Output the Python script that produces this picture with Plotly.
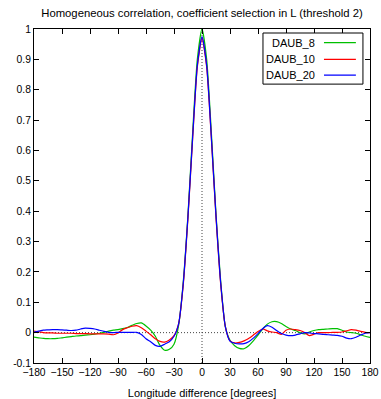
import plotly.graph_objects as go

longitude = list(range(-180, 185, 5))

daub_8 = [-0.015, -0.017, -0.019, -0.020, -0.020, -0.019, -0.017, -0.015, -0.013, -0.011,
          -0.010, -0.008, -0.007, -0.005, -0.002, 0.001, 0.005, 0.008, 0.010, 0.013,
          0.017, 0.024, 0.030, 0.032, 0.022, 0.008, -0.012, -0.042, -0.058, -0.055,
          -0.038, 0.025, 0.17, 0.39, 0.66, 0.90, 1.0, 0.90, 0.66, 0.39,
          0.17, 0.02, -0.025, -0.043, -0.052, -0.053, -0.043, -0.027, -0.008, 0.012,
          0.028, 0.036, 0.036, 0.030, 0.020, 0.012, 0.007, 0.000, -0.004, 0.002,
          0.007, 0.010, 0.011, 0.012, 0.013, 0.013, 0.008, 0.002, 0.000, -0.002,
          -0.007, -0.012, -0.016]

daub_10 = [0.005, 0.003, 0.000, -0.001, -0.001, -0.002, -0.002, -0.002, -0.002, -0.003,
           -0.003, -0.003, -0.004, -0.004, -0.004, -0.004, -0.005, -0.007, -0.001, 0.010,
           0.016, 0.021, 0.023, 0.016, 0.005, -0.007, -0.020, -0.029, -0.031, -0.024,
           -0.010, 0.030, 0.16, 0.38, 0.64, 0.875, 0.97, 0.875, 0.64, 0.38,
           0.16, 0.02, -0.027, -0.034, -0.032, -0.027, -0.019, -0.008, 0.004, 0.012,
           0.006, 0.002, 0.000, -0.006, 0.008, 0.012, 0.010, 0.007, 0.000, -0.010,
           -0.005, 0.000, 0.000, 0.000, 0.001, 0.001, 0.002, 0.006, 0.010, 0.008,
           0.004, 0.001, 0.000]

daub_20 = [0.002, 0.005, 0.008, 0.009, 0.010, 0.010, 0.009, 0.008, 0.007, 0.008,
           0.012, 0.015, 0.014, 0.012, 0.008, 0.004, 0.001, 0.000, 0.001, 0.001,
           0.001, 0.001, 0.001, -0.006, -0.020, -0.030, -0.042, -0.045, -0.038, -0.030,
           -0.012, 0.030, 0.165, 0.385, 0.645, 0.88, 0.975, 0.88, 0.645, 0.385,
           0.165, 0.02, -0.028, -0.035, -0.037, -0.036, -0.030, -0.018, -0.003, 0.013,
           0.023, 0.018, 0.007, -0.003, -0.008, -0.010, -0.008, -0.004, 0.000, -0.001,
           -0.003, -0.004, -0.006, -0.007, -0.008, -0.009, -0.012, -0.018, -0.020, -0.015,
           -0.008, -0.002, 0.000]

series_names = ["DAUB_8", "DAUB_10", "DAUB_20"]
series_values = [daub_8, daub_10, daub_20]
series_colors = ["#00c000", "#ff0000", "#0000ff"]

x_ticks = list(range(-180, 181, 30))
y_ticks = [round(-0.1 + 0.1 * i, 1) for i in range(12)]
y_tick_text = ["-0.1", "0", "0.1", "0.2", "0.3", "0.4", "0.5", "0.6", "0.7", "0.8", "0.9", "1"]

FONT = "Liberation Sans, Arial, Helvetica, sans-serif"

fig = go.Figure()
for name, vals, col in zip(series_names, series_values, series_colors):
    fig.add_trace(go.Scatter(x=longitude, y=vals, name=name, mode="lines",
                             line=dict(color=col, width=1.2, shape="spline", smoothing=0.6),
                             showlegend=False))

# dotted zero axes
fig.add_shape(type="line", xref="x", yref="y", x0=-180, x1=180, y0=0, y1=0,
              line=dict(color="#444444", width=1, dash="1px,2px"), layer="below")
fig.add_shape(type="line", xref="x", yref="y", x0=0, x1=0, y0=-0.1, y1=1,
              line=dict(color="#444444", width=1, dash="1px,2px"), layer="below")

# gnuplot-style legend box (text then line sample)
fig.add_shape(type="rect", xref="paper", yref="paper", x0=0.6815, x1=0.979, y0=0.835, y1=0.988,
              line=dict(color="black", width=1), fillcolor="white", layer="above")
row_y = [0.959, 0.909, 0.862]
for name, col, ry in zip(series_names, series_colors, row_y):
    fig.add_annotation(xref="paper", yref="paper", x=0.842, y=ry, text=name, showarrow=False,
                       xanchor="right", yanchor="middle", font=dict(family=FONT, size=11, color="black"))
    fig.add_shape(type="line", xref="paper", yref="paper", x0=0.863, x1=0.958, y0=ry, y1=ry,
                  line=dict(color=col, width=1.2), layer="above")

fig.update_layout(
    template="none",
    width=381, height=399,
    margin=dict(l=34, r=11, t=29, b=36, pad=0),
    paper_bgcolor="white", plot_bgcolor="white",
    font=dict(family=FONT, size=10, color="black"),
    title=dict(text="Homogeneous correlation, coefficient selection in L (threshold 2)",
               x=(34 + 336 / 2) / 381, xanchor="center", y=1 - 13 / 399, yanchor="middle",
               font=dict(family=FONT, size=11.3, color="black")),
    xaxis=dict(range=[-180, 180], tickvals=x_ticks, ticks="inside", ticklen=5, tickcolor="black",
               showline=True, linecolor="black", linewidth=1, mirror="allticks",
               showgrid=False, zeroline=False, automargin=False,
               title=dict(text="Longitude difference [degrees]", standoff=12,
                          font=dict(family=FONT, size=11)),
               tickfont=dict(family=FONT, size=10.3)),
    yaxis=dict(range=[-0.1, 1], tickvals=y_ticks, ticktext=y_tick_text, ticks="inside", ticklen=5,
               tickcolor="black", showline=True, linecolor="black", linewidth=1, mirror="allticks",
               showgrid=False, zeroline=False, automargin=False, tickfont=dict(family=FONT, size=10.3)),
)

fig.write_html("out.html")
